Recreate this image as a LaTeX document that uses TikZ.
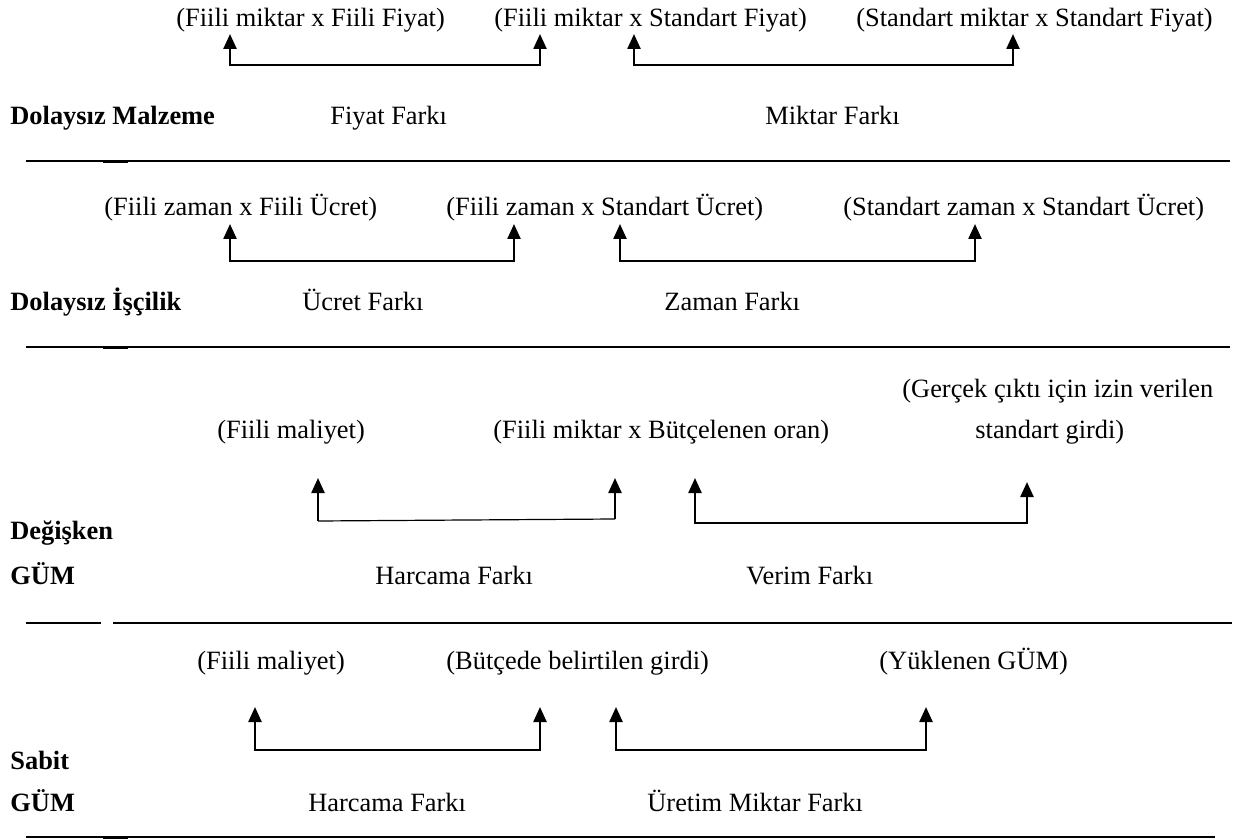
\documentclass[tikz,border=0pt]{standalone}
\usepackage{fontspec}
\setmainfont{Liberation Serif}
\usetikzlibrary{arrows.meta, positioning}

\begin{document}
\begin{tikzpicture}[x=0.5pt, y=-0.5pt, font=\fontsize{13.2}{16}\selectfont,
	lbl/.style={inner sep=0pt, anchor=base west},
	ttl/.style={inner sep=0pt, anchor=base west, font=\fontsize{13.2}{16}\selectfont\bfseries},
	brk/.style={line width=1.2pt, {Triangle[length=7.5pt, width=6.5pt]}-{Triangle[length=7.5pt, width=6.5pt]}},
	stem/.style={line width=1.2pt, -{Triangle[length=7.5pt, width=6.5pt]}},
	rule/.style={line width=1.2pt}]
	\useasboundingbox (0,0) rectangle (1233,840);
	% Dolaysiz Malzeme
	\begin{scope}[shift={(0,0)}]
		\node[lbl] (mFF) at (176,27) {(Fiili miktar x Fiili Fiyat)};
		\node[lbl] (mFS) at (494,27) {(Fiili miktar x Standart Fiyat)};
		\node[lbl] (mSS) at (856,27) {(Standart miktar x Standart Fiyat)};
		\coordinate (mA) at (230,34); \coordinate (mB) at (540,34); \coordinate (mC) at (634,34); \coordinate (mD) at (1013,34);
		\draw[brk] (mA) -- ++(0,31) -| (mB); \draw[brk] (mC) -- ++(0,31) -| (mD);
		\node[ttl] (dm) at (10,125) {Dolaysız Malzeme};
		\node[lbl] (mFiyat) at (330,125) {Fiyat Farkı}; \node[lbl] (mMiktar) at (765,125) {Miktar Farkı};
		\draw[rule] (26,161) -- (1230,161); \draw[rule] (103,162) -- (128,162);
	\end{scope}
	% Dolaysiz Iscilik
	\begin{scope}[shift={(0,0)}]
		\node[lbl] (iFF) at (104,216) {(Fiili zaman x Fiili Ücret)};
		\node[lbl] (iFS) at (446,216) {(Fiili zaman x Standart Ücret)};
		\node[lbl] (iSS) at (843,216) {(Standart zaman x Standart Ücret)};
		\coordinate (iA) at (230,224); \coordinate (iB) at (514,224); \coordinate (iC) at (620,224); \coordinate (iD) at (975,224);
		\draw[brk] (iA) -- ++(0,37) -| (iB); \draw[brk] (iC) -- ++(0,37) -| (iD);
		\node[ttl] (di) at (10,310) {Dolaysız İşçilik};
		\node[lbl] (iUcret) at (302,310) {Ücret Farkı}; \node[lbl] (iZaman) at (664,310) {Zaman Farkı};
		\draw[rule] (26,347) -- (1230,347); \draw[rule] (103,348) -- (128,348);
	\end{scope}
	% Degisken GUM
	\begin{scope}[shift={(0,0)}]
		\node[lbl] (vGc) at (902,397) {(Gerçek çıktı için izin verilen};
		\node[lbl] (vFM) at (217,438) {(Fiili maliyet)};
		\node[lbl] (vFB) at (493,438) {(Fiili miktar x Bütçelenen oran)};
		\node[lbl] (vSG) at (975,438) {standart girdi)};
		\coordinate (vA) at (318,478); \coordinate (vB) at (615,478); \coordinate (vC) at (695,478); \coordinate (vD) at (1027,482);
		\coordinate (vA0) at (318,521); \coordinate (vB0) at (615,519);
		\draw[stem] (vA0) -- (vA); \draw[stem] (vB0) -- (vB); \draw[line width=0.6pt] (vA0) -- (vB0);
		\draw[brk] (vC) -- ++(0,45) -| (vD);
		\node[ttl] (vDeg) at (10,539) {Değişken}; \node[ttl] (vGum) at (10,584) {GÜM};
		\node[lbl] (vHarcama) at (375,584) {Harcama Farkı}; \node[lbl] (vVerim) at (746,584) {Verim Farkı};
		\draw[rule] (26,623) -- (101,623); \draw[rule] (113,623) -- (1232,623);
	\end{scope}
	% Sabit GUM
	\begin{scope}[shift={(0,0)}]
		\node[lbl] (sFM) at (197,669) {(Fiili maliyet)};
		\node[lbl] (sBG) at (446,669) {(Bütçede belirtilen girdi)};
		\node[lbl] (sYG) at (879,669) {(Yüklenen GÜM)};
		\coordinate (sA) at (255,707); \coordinate (sB) at (540,707); \coordinate (sC) at (616,707); \coordinate (sD) at (926,707);
		\draw[brk] (sA) -- ++(0,43) -| (sB); \draw[brk] (sC) -- ++(0,43) -| (sD);
		\node[ttl] (sSab) at (10,769) {Sabit}; \node[ttl] (sGum) at (10,811) {GÜM};
		\node[lbl] (sHarcama) at (308,811) {Harcama Farkı}; \node[lbl] (sUretim) at (647,811) {Üretim Miktar Farkı};
		\draw[rule] (26,837) -- (1215,837); \draw[rule] (103,838) -- (128,838);
	\end{scope}
\end{tikzpicture}
\end{document}
